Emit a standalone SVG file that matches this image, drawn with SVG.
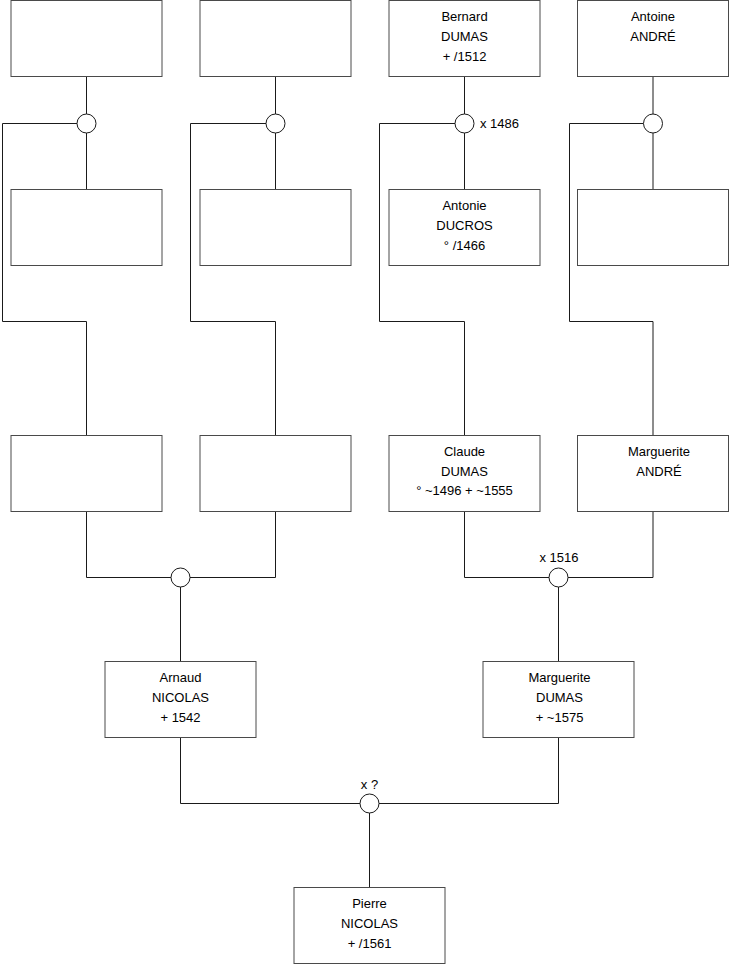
<svg xmlns="http://www.w3.org/2000/svg" width="740" height="975" viewBox="0 0 740 975">
<style>
.box{fill:#fff;stroke:#4a4a4a;stroke-width:1}
.ln{fill:none;stroke:#1a1a1a;stroke-width:1}
.u{fill:#fff;stroke:#1a1a1a;stroke-width:1}
text{font-family:"Liberation Sans",Arial,sans-serif;font-size:13px;fill:#000}
.c{text-anchor:middle}
</style>
<rect width="740" height="975" fill="#fff"/>
<g id="connectors">
<path class="ln" d="M86.5 76.5V114M86.5 133V189.5"/>
<path class="ln" d="M275.5 76.5V114M275.5 133V189.5"/>
<path class="ln" d="M464.5 76.5V114M464.5 133V189.5"/>
<path class="ln" d="M653 76.5V114M653 133V189.5"/>
<path class="ln" d="M77 123.5H2.5V321.5H86.5V435.5"/>
<path class="ln" d="M266 123.5H190.5V321.5H275.5V435.5"/>
<path class="ln" d="M455 123.5H379.5V321.5H464.5V435.5"/>
<path class="ln" d="M643.5 123.5H569.5V321.5H653V435.5"/>
<path class="ln" d="M86.5 511.5V577.5H171M275.5 511.5V577.5H190M180.5 587V661.5"/>
<path class="ln" d="M464.5 511.5V577.5H549M653 511.5V577.5H568M558.5 587V661.5"/>
<path class="ln" d="M180.5 737.5V803.5H360M558.5 737.5V803.5H379M369.5 813V887.5"/>
<circle class="u" cx="86.5" cy="123.5" r="9.5"/>
<circle class="u" cx="275.5" cy="123.5" r="9.5"/>
<circle class="u" cx="464.5" cy="123.5" r="9.5"/>
<circle class="u" cx="653" cy="123.5" r="9.5"/>
<circle class="u" cx="180.5" cy="577.5" r="9.5"/>
<circle class="u" cx="558.5" cy="577.5" r="9.5"/>
<circle class="u" cx="369.5" cy="803.5" r="9.5"/>
<text x="480" y="128">x 1486</text>
<text class="c" x="559" y="562">x 1516</text>
<text class="c" x="369.5" y="789">x ?</text>
</g>
<g id="n1"><rect class="box" x="11" y="0.5" width="151" height="76"/></g>
<g id="n2"><rect class="box" x="200" y="0.5" width="151" height="76"/></g>
<g id="n3"><rect class="box" x="389" y="0.5" width="151" height="76"/>
<text class="c" x="464.5" y="20.5">Bernard</text><text class="c" x="464.5" y="40.5">DUMAS</text><text class="c" x="464.5" y="60.5">+ /1512</text></g>
<g id="n4"><rect class="box" x="577.5" y="0.5" width="151" height="76"/>
<text class="c" x="653" y="20.5">Antoine</text><text class="c" x="653" y="40.5">ANDRÉ</text></g>
<g id="n5"><rect class="box" x="11" y="189.5" width="151" height="76"/></g>
<g id="n6"><rect class="box" x="200" y="189.5" width="151" height="76"/></g>
<g id="n7"><rect class="box" x="389" y="189.5" width="151" height="76"/>
<text class="c" x="464.5" y="210">Antonie</text><text class="c" x="464.5" y="230">DUCROS</text><text class="c" x="464.5" y="250">° /1466</text></g>
<g id="n8"><rect class="box" x="577.5" y="189.5" width="151" height="76"/></g>
<g id="n9"><rect class="box" x="11" y="435.5" width="151" height="76"/></g>
<g id="n10"><rect class="box" x="200" y="435.5" width="151" height="76"/></g>
<g id="n11"><rect class="box" x="389" y="435.5" width="151" height="76"/>
<text class="c" x="464.5" y="455.5">Claude</text><text class="c" x="464.5" y="475.5">DUMAS</text><text class="c" x="464.5" y="495">° ~1496 + ~1555</text></g>
<g id="n12"><rect class="box" x="577.5" y="435.5" width="151" height="76"/>
<text class="c" x="659" y="455.5">Marguerite</text><text class="c" x="659" y="475.5">ANDRÉ</text></g>
<g id="n13"><rect class="box" x="105" y="661.5" width="151" height="76"/>
<text class="c" x="180.5" y="682">Arnaud</text><text class="c" x="180.5" y="702">NICOLAS</text><text class="c" x="180.5" y="722">+ 1542</text></g>
<g id="n14"><rect class="box" x="483" y="661.5" width="151" height="76"/>
<text class="c" x="559.5" y="682">Marguerite</text><text class="c" x="559.5" y="702">DUMAS</text><text class="c" x="559.5" y="722">+ ~1575</text></g>
<g id="n15"><rect class="box" x="294" y="887.5" width="151" height="76"/>
<text class="c" x="369.5" y="908">Pierre</text><text class="c" x="369.5" y="928">NICOLAS</text><text class="c" x="369.5" y="948">+ /1561</text></g>
</svg>
